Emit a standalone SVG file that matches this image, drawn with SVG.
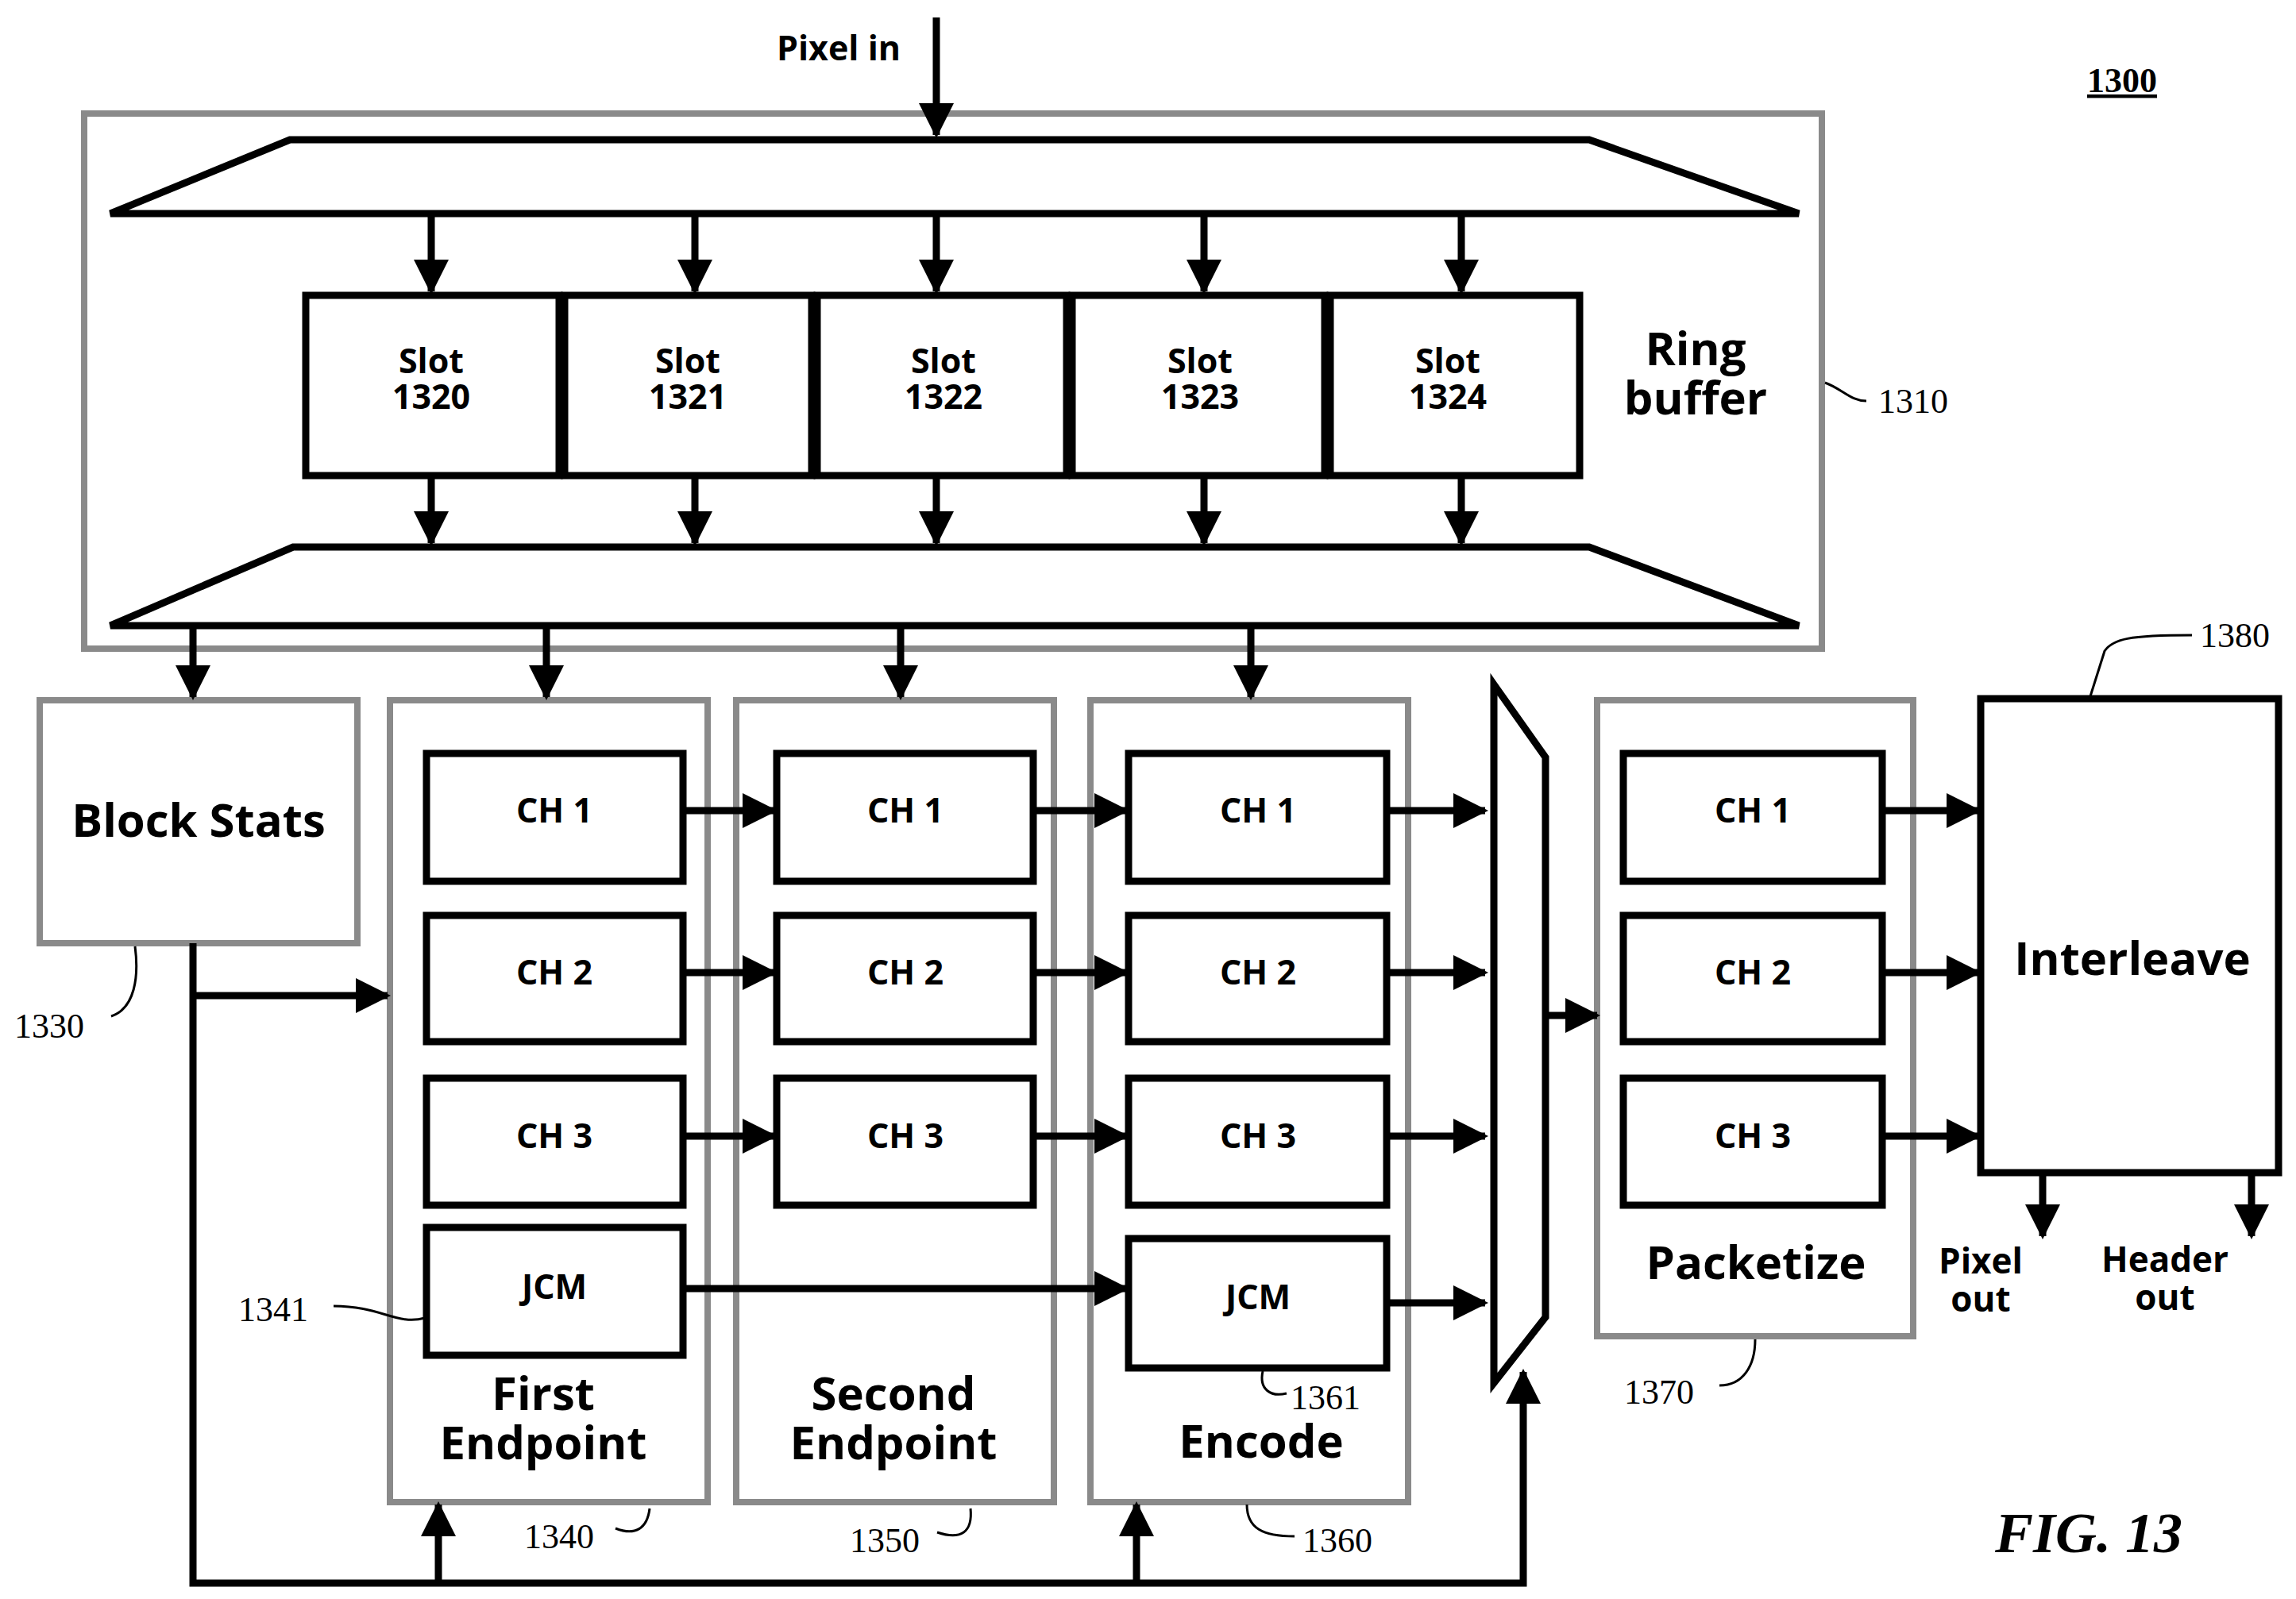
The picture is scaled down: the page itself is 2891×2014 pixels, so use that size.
<svg xmlns="http://www.w3.org/2000/svg" width="2891" height="2014" viewBox="0 0 2891 2014">
<style>
.g{fill:none;stroke:#8a8a8a;stroke-width:8}
.b{fill:#fff;stroke:#000;stroke-width:9}
.l{fill:none;stroke:#000;stroke-width:9}
.a{fill:none;stroke:#000;stroke-width:9;marker-end:url(#ah)}
.t{font-family:"Open Sans","DejaVu Sans",sans-serif;font-weight:700;text-anchor:middle;fill:#000}
.s{font-size:43px}
.m{font-size:58px}
.n{font-family:"Liberation Serif",serif;font-size:44px;fill:#000}
.c{fill:none;stroke:#000;stroke-width:3}
</style>
<defs>
<marker id="ah" markerUnits="userSpaceOnUse" markerWidth="44" markerHeight="44" refX="40" refY="22" orient="auto">
<path d="M0,0 L44,22 L0,44 Z" fill="#000"/>
</marker>
</defs>
<rect width="2891" height="2014" fill="#fff"/>
<text x="1056" y="76" class="t s">Pixel in</text>
<text x="2672" y="116" class="n" style="font-weight:700;text-decoration:underline" text-anchor="middle">1300</text>
<text x="2630" y="1955" class="n" style="font-weight:700;font-style:italic;font-size:72px" text-anchor="middle">FIG. 13</text>

<g id="ring">
<rect x="106" y="143" width="2188" height="674" class="g"/>
<polygon points="365,176 2001,176 2265,269 139,269" class="l"/>
<polygon points="369,689 2001,689 2265,788 139,788" class="l"/>
<text x="2135" y="460" class="t m">Ring</text>
<text x="2135" y="522" class="t m">buffer</text>
<path d="M2298,482 C2320,490 2330,505 2350,505" class="c"/>
<text x="2365" y="520" class="n">1310</text>
</g>
<g id="slots">
<rect x="385" y="372" width="319" height="227" class="b"/>
<rect x="711" y="372" width="311" height="227" class="b"/>
<rect x="1029" y="372" width="314" height="227" class="b"/>
<rect x="1350" y="372" width="318" height="227" class="b"/>
<rect x="1675" y="372" width="314" height="227" class="b"/>
<text x="543" y="470" class="t s">Slot</text><text x="543" y="515" class="t s">1320</text>
<text x="866" y="470" class="t s">Slot</text><text x="866" y="515" class="t s">1321</text>
<text x="1188" y="470" class="t s">Slot</text><text x="1188" y="515" class="t s">1322</text>
<text x="1511" y="470" class="t s">Slot</text><text x="1511" y="515" class="t s">1323</text>
<text x="1823" y="470" class="t s">Slot</text><text x="1823" y="515" class="t s">1324</text>
</g>
<g id="blockstats">
<rect x="50" y="882" width="400" height="306" class="g"/>
<text x="250" y="1054" class="t m">Block Stats</text>
<path d="M170,1192 C175,1230 170,1270 140,1280" class="c"/>
<text x="18" y="1307" class="n">1330</text>
</g>
<g id="first">
<rect x="491" y="882" width="400" height="1010" class="g"/>
<rect x="537" y="949" width="323" height="161" class="b"/><text x="698" y="1036" class="t s">CH 1</text>
<rect x="537" y="1153" width="323" height="159" class="b"/><text x="698" y="1240" class="t s">CH 2</text>
<rect x="537" y="1358" width="323" height="160" class="b"/><text x="698" y="1446" class="t s">CH 3</text>
<rect x="537" y="1546" width="323" height="161" class="b"/><text x="698" y="1636" class="t s">JCM</text>
<text x="684" y="1776" class="t m">First</text><text x="684" y="1838" class="t m">Endpoint</text>
<path d="M420,1645 C480,1645 500,1670 535,1660" class="c"/>
<text x="300" y="1664" class="n">1341</text>
<path d="M775,1925 C800,1935 815,1925 818,1900" class="c"/>
<text x="660" y="1950" class="n">1340</text>
</g>
<g id="second">
<rect x="927" y="882" width="400" height="1010" class="g"/>
<rect x="978" y="949" width="323" height="161" class="b"/><text x="1140" y="1036" class="t s">CH 1</text>
<rect x="978" y="1153" width="323" height="159" class="b"/><text x="1140" y="1240" class="t s">CH 2</text>
<rect x="978" y="1358" width="323" height="160" class="b"/><text x="1140" y="1446" class="t s">CH 3</text>
<text x="1125" y="1776" class="t m">Second</text><text x="1125" y="1838" class="t m">Endpoint</text>
<path d="M1180,1930 C1210,1940 1225,1930 1222,1900" class="c"/>
<text x="1070" y="1955" class="n">1350</text>
</g>
<g id="encode">
<rect x="1373" y="882" width="400" height="1010" class="g"/>
<rect x="1421" y="949" width="325" height="161" class="b"/><text x="1584" y="1036" class="t s">CH 1</text>
<rect x="1421" y="1153" width="325" height="159" class="b"/><text x="1584" y="1240" class="t s">CH 2</text>
<rect x="1421" y="1358" width="325" height="160" class="b"/><text x="1584" y="1446" class="t s">CH 3</text>
<rect x="1421" y="1560" width="325" height="163" class="b"/><text x="1584" y="1649" class="t s">JCM</text>
<text x="1588" y="1836" class="t m">Encode</text>
<path d="M1590,1727 C1585,1750 1600,1760 1620,1755" class="c"/>
<text x="1625" y="1775" class="n">1361</text>
<path d="M1570,1895 C1570,1925 1590,1935 1630,1935" class="c"/>
<text x="1640" y="1955" class="n">1360</text>
</g>
<g id="mux">
<polygon points="1881,862 1946,954 1946,1659 1881,1742" class="b"/>
</g>
<g id="packetize">
<rect x="2011" y="882" width="398" height="801" class="g"/>
<rect x="2044" y="949" width="326" height="161" class="b"/><text x="2207" y="1036" class="t s">CH 1</text>
<rect x="2044" y="1153" width="326" height="159" class="b"/><text x="2207" y="1240" class="t s">CH 2</text>
<rect x="2044" y="1358" width="326" height="160" class="b"/><text x="2207" y="1446" class="t s">CH 3</text>
<text x="2211" y="1611" class="t m">Packetize</text>
<path d="M2210,1687 C2210,1720 2195,1745 2165,1745" class="c"/>
<text x="2045" y="1768" class="n">1370</text>
</g>
<g id="interleave">
<rect x="2494" y="880" width="375" height="597" class="b"/>
<text x="2685" y="1228" class="t m">Interleave</text>
<path d="M2632,877 L2650,820 C2660,805 2680,800 2760,800" class="c"/>
<text x="2770" y="815" class="n">1380</text>
<text x="2494" y="1604" class="t" style="font-size:44px">Pixel</text>
<text x="2494" y="1652" class="t" style="font-size:44px">out</text>
<text x="2726" y="1602" class="t" style="font-size:44px">Header</text>
<text x="2726" y="1650" class="t" style="font-size:44px">out</text>
</g>
<g id="connectors">
<line x1="1179" y1="22" x2="1179" y2="170" class="a"/>
<line x1="543" y1="269" x2="543" y2="367" class="a"/>
<line x1="875" y1="269" x2="875" y2="367" class="a"/>
<line x1="1179" y1="269" x2="1179" y2="367" class="a"/>
<line x1="1516" y1="269" x2="1516" y2="367" class="a"/>
<line x1="1840" y1="269" x2="1840" y2="367" class="a"/>
<line x1="543" y1="599" x2="543" y2="684" class="a"/>
<line x1="875" y1="599" x2="875" y2="684" class="a"/>
<line x1="1179" y1="599" x2="1179" y2="684" class="a"/>
<line x1="1516" y1="599" x2="1516" y2="684" class="a"/>
<line x1="1840" y1="599" x2="1840" y2="684" class="a"/>
<line x1="243" y1="788" x2="243" y2="878" class="a"/>
<line x1="688" y1="788" x2="688" y2="878" class="a"/>
<line x1="1134" y1="788" x2="1134" y2="878" class="a"/>
<line x1="1575" y1="788" x2="1575" y2="878" class="a"/>
<line x1="860" y1="1021" x2="975" y2="1021" class="a"/>
<line x1="860" y1="1225" x2="975" y2="1225" class="a"/>
<line x1="860" y1="1431" x2="975" y2="1431" class="a"/>
<line x1="1301" y1="1021" x2="1418" y2="1021" class="a"/>
<line x1="1301" y1="1225" x2="1418" y2="1225" class="a"/>
<line x1="1301" y1="1431" x2="1418" y2="1431" class="a"/>
<line x1="860" y1="1623" x2="1418" y2="1623" class="a"/>
<line x1="1746" y1="1021" x2="1870" y2="1021" class="a"/>
<line x1="1746" y1="1225" x2="1870" y2="1225" class="a"/>
<line x1="1746" y1="1431" x2="1870" y2="1431" class="a"/>
<line x1="1746" y1="1641" x2="1870" y2="1641" class="a"/>
<line x1="1946" y1="1279" x2="2011" y2="1279" class="a"/>
<line x1="2370" y1="1021" x2="2491" y2="1021" class="a"/>
<line x1="2370" y1="1225" x2="2491" y2="1225" class="a"/>
<line x1="2370" y1="1431" x2="2491" y2="1431" class="a"/>
<line x1="2572" y1="1477" x2="2572" y2="1557" class="a"/>
<line x1="2835" y1="1477" x2="2835" y2="1557" class="a"/>
<polyline points="243,1188 243,1994 1918,1994 1918,1728" class="a"/>
<line x1="243" y1="1254" x2="488" y2="1254" class="a"/>
<line x1="552" y1="1994" x2="552" y2="1895" class="a"/>
<line x1="1431" y1="1994" x2="1431" y2="1895" class="a"/>
</g>
</svg>
